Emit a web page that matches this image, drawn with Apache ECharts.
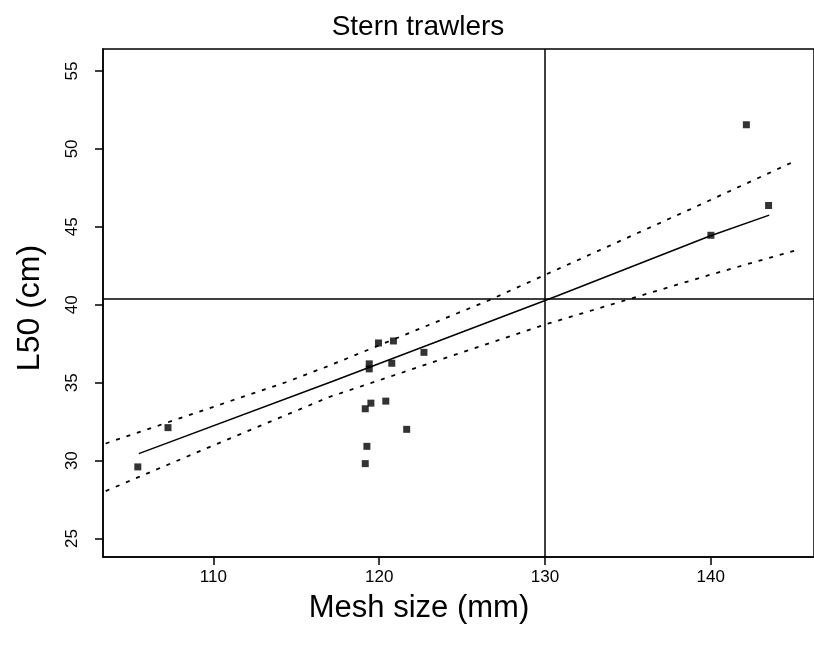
<!DOCTYPE html>
<html>
<head>
<meta charset="utf-8">
<title>Stern trawlers</title>
<script src="https://cdn.jsdelivr.net/npm/echarts@6/dist/echarts.min.js"></script>
<style>
  html, body { margin: 0; padding: 0; background: #fff; }
  #chart { width: 814px; height: 659px; }
</style>
</head>
<body>
<div id="chart"></div>
<script>
// observed points
const meshSize = [105.44, 107.26, 119.16, 119.26, 119.16, 119.5, 120.4, 121.66, 119.4, 119.4, 119.96, 120.86, 120.76, 122.7, 142.15, 143.49, 140.01]
const l50 = [29.6, 32.12, 29.81, 30.92, 33.33, 33.69, 33.82, 32.01, 36.21, 35.89, 37.55, 37.68, 36.25, 36.95, 51.55, 46.37, 44.46]

// fitted line
const fitX = [105.5, 117.16, 130.76, 139.95, 143.53]
const fitY = [30.45, 35.08, 40.58, 44.41, 45.75]

// confidence band, upper and lower
const upperX = [103.5, 108, 114.36, 117, 120, 126.56, 130.76, 138.75, 145.15]
const upperY = [31.1, 32.73, 35.03, 36.1, 37.4, 40.26, 42.28, 46.12, 49.25]
const lowerX = [103.5, 110, 116.96, 122, 129.96, 134.76, 139.95, 145.15]
const lowerY = [28.05, 30.98, 34.07, 35.87, 38.72, 40.26, 41.92, 43.5]

// reference lines
const refMesh = 130
const refL50 = 40.4

const xTicks = [110, 120, 130, 140]
const yTicks = [25, 30, 35, 40, 45, 50, 55]

const zip = (xs, ys) => xs.map((x, i) => [x, ys[i]])

const chart = echarts.init(document.getElementById('chart'))
const font = 'Liberation Sans, Arial, sans-serif'

const dashed = {
  type: 'line',
  showSymbol: false,
  silent: true,
  lineStyle: { color: '#000', width: 1.8, type: [4, 7] }
}

const option = {
  animation: false,
  graphic: [
    {
      type: 'text',
      x: 418,
      y: 27,
      style: { text: 'Stern trawlers', fontFamily: font, fontSize: 28, fill: '#000', align: 'center', verticalAlign: 'middle' }
    },
    {
      type: 'text',
      x: 419,
      y: 608,
      style: { text: 'Mesh size (mm)', fontFamily: font, fontSize: 31, fill: '#000', align: 'center', verticalAlign: 'middle' }
    },
    {
      type: 'text',
      x: 30,
      y: 308,
      rotation: Math.PI / 2,
      style: { text: 'L50 (cm)', fontFamily: font, fontSize: 32, fill: '#000', align: 'center', verticalAlign: 'middle' }
    }
  ],
  grid: {
    left: 103,
    right: -4,
    top: 49,
    bottom: 102,
    show: true,
    borderColor: '#000',
    borderWidth: 1.5
  },
  xAxis: {
    type: 'value',
    min: 103.34,
    max: 146.23,
    splitLine: { show: false },
    axisLine: { show: true, lineStyle: { color: '#000', width: 1.5 } },
    axisTick: { show: true, length: 8, customValues: xTicks, lineStyle: { color: '#000', width: 1.5 } },
    axisLabel: { customValues: xTicks, margin: 12, fontFamily: font, fontSize: 17, color: '#000' }
  },
  yAxis: {
    type: 'value',
    min: 23.82,
    max: 56.41,
    splitLine: { show: false },
    axisLine: { show: true, lineStyle: { color: '#000', width: 1.5 } },
    axisTick: { show: true, length: 8, customValues: yTicks, lineStyle: { color: '#000', width: 1.5 } },
    axisLabel: { customValues: yTicks, rotate: 90, margin: 22, fontFamily: font, fontSize: 17, color: '#000' }
  },
  series: [
    {
      type: 'scatter',
      symbol: 'rect',
      symbolSize: 7,
      itemStyle: { color: '#000' },
      data: zip(meshSize, l50),
      markLine: {
        silent: true,
        symbol: 'none',
        label: { show: false },
        lineStyle: { color: '#000', width: 1.5, type: 'solid' },
        data: [{ xAxis: refMesh }, { yAxis: refL50 }]
      }
    },
    {
      type: 'line',
      showSymbol: false,
      silent: true,
      lineStyle: { color: '#000', width: 1.5 },
      data: zip(fitX, fitY)
    },
    Object.assign({ data: zip(upperX, upperY) }, dashed),
    Object.assign({ data: zip(lowerX, lowerY) }, dashed)
  ]
}

chart.setOption(option)
</script>
</body>
</html>
